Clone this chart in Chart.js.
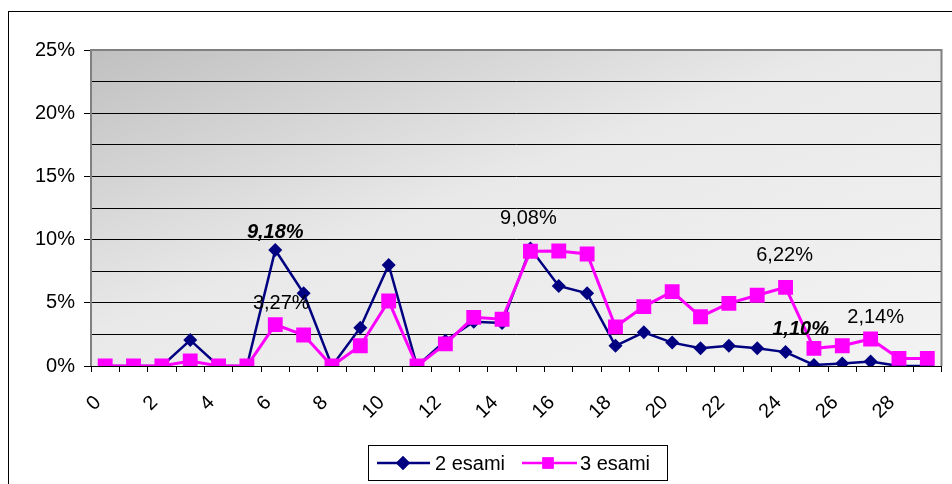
<!DOCTYPE html>
<html>
<head>
<meta charset="utf-8">
<script src="https://cdn.jsdelivr.net/npm/chart.js@4.4.1/dist/chart.umd.min.js"></script>
<style>
  html, body { margin: 0; padding: 0; background: #fff; }
  #wrap { width: 952px; height: 484px; }
</style>
</head>
<body>
<div id="wrap"><canvas id="chart" width="952" height="484"></canvas></div>
<script>
// categories on the x axis (one point per category)
const categories = [0, 1, 2, 3, 4, 5, 6, 7, 8, 9, 10, 11, 12, 13, 14, 15, 16, 17, 18, 19, 20, 21, 22, 23, 24, 25, 26, 27, 28, 29];
// percentages
const twoExams = [0, 0, 0, 2.05, 0, 0, 9.18, 5.75, 0, 3.03, 8.0, 0, 2.0, 3.5, 3.4, 9.3, 6.33, 5.75, 1.6, 2.67, 1.85, 1.4, 1.6, 1.4, 1.10, 0.08, 0.2, 0.35, 0, 0];
const threeExams = [0, 0, 0, 0.4, 0, 0, 3.27, 2.45, 0, 1.6, 5.14, 0, 1.75, 3.85, 3.7, 9.08, 9.1, 8.86, 3.1, 4.7, 5.88, 3.9, 4.95, 5.6, 6.22, 1.4, 1.6, 2.14, 0.6, 0.6];
const seriesNames = ['2 esami', '3 esami'];
const xTickLabels = [0, 2, 4, 6, 8, 10, 12, 14, 16, 18, 20, 22, 24, 26, 28];
const yTickLabels = [0, 5, 10, 15, 20, 25];
// value labels shown on the chart: [dataset, index]
const valueLabels = [[0, 6], [1, 6], [1, 15], [1, 24], [0, 24], [1, 27]];

const FONT = "'Liberation Sans', Arial, sans-serif";
const FSIZE = 20;
const NAVY = '#000080';
const PINK = '#ff00ff';

// label placement relative to the point (style only)
const labelStyle = {
  '0-6': { dx: 0, dy: -17, bold: true },
  '1-6': { dx: 6, dy: -21, bold: false },
  '1-15': { dx: -2, dy: -33, bold: false },
  '1-24': { dx: -1, dy: -32, bold: false },
  '0-24': { dx: 15, dy: -23, bold: true },
  '1-27': { dx: 5, dy: -21, bold: false }
};

const toPoints = vals => vals.map((v, i) => ({ x: categories[i] + 0.5, y: v }));

const decorPlugin = {
  id: 'decor',
  beforeDraw(chart) {
    const { ctx, chartArea: a } = chart;
    ctx.save();
    ctx.fillStyle = '#fff';
    ctx.fillRect(0, 0, chart.width, chart.height);
    // outer chart frame (cut off right and bottom)
    ctx.strokeStyle = '#000';
    ctx.lineWidth = 1;
    ctx.strokeRect(8.5, 11.5, 1000, 1000);
    // plot background gradient, diagonal from top-left
    const w = a.right - a.left, h = a.bottom - a.top;
    const s = 2 / (1 / (w * w) + 1 / (h * h));
    const g = ctx.createLinearGradient(a.left, a.top, a.left + s / w, a.top + s / h);
    g.addColorStop(0, '#c0c0c0');
    g.addColorStop(0.45, '#e9e9e9');
    g.addColorStop(1, '#f3f3f3');
    ctx.fillStyle = g;
    ctx.fillRect(a.left, a.top, w, h);
    ctx.restore();
  },
  beforeDatasetsDraw(chart) {
    const { ctx, chartArea: a } = chart;
    ctx.save();
    ctx.strokeStyle = '#808080';
    ctx.lineWidth = 2;
    ctx.beginPath();
    ctx.moveTo(a.left, a.bottom);
    ctx.lineTo(a.left, a.top);
    ctx.lineTo(a.right, a.top);
    ctx.lineTo(a.right, a.bottom);
    ctx.stroke();
    ctx.strokeStyle = '#000';
    ctx.lineWidth = 1;
    ctx.beginPath();
    ctx.moveTo(a.left - 7, Math.round(a.bottom) + 0.5);
    ctx.lineTo(a.right, Math.round(a.bottom) + 0.5);
    ctx.stroke();
    ctx.restore();
  },
  afterDatasetsDraw(chart) {
    const ctx = chart.ctx;
    ctx.save();
    ctx.fillStyle = '#000';
    ctx.textAlign = 'center';
    ctx.textBaseline = 'middle';
    valueLabels.forEach(([ds, i]) => {
      const el = chart.getDatasetMeta(ds).data[i];
      const st = labelStyle[ds + '-' + i];
      const v = chart.data.datasets[ds].data[i].y;
      ctx.font = (st.bold ? 'italic bold ' : '') + FSIZE + 'px ' + FONT;
      ctx.fillText(v.toFixed(2).replace('.', ',') + '%', el.x + st.dx, el.y + st.dy);
    });
    ctx.restore();
  },
  afterDraw(chart) {
    // legend box
    const ctx = chart.ctx;
    ctx.save();
    ctx.strokeStyle = '#000';
    ctx.lineWidth = 1;
    ctx.strokeRect(368.5, 445.5, 299, 35);
    const y = 463;
    const items = [
      { x0: 377, x1: 430, mx: 403, color: NAVY, style: 'rectRot', r: 7, tx: 435 },
      { x0: 522, x1: 577, mx: 548, color: PINK, style: 'rect', r: 8, tx: 580 }
    ];
    items.forEach((it, k) => {
      ctx.strokeStyle = it.color;
      ctx.lineWidth = 2.5;
      ctx.beginPath();
      ctx.moveTo(it.x0, y);
      ctx.lineTo(it.x1, y);
      ctx.stroke();
      ctx.fillStyle = it.color;
      Chart.helpers.drawPoint(ctx, { pointStyle: it.style, radius: it.r, borderWidth: 0 }, it.mx, y);
      ctx.fill();
      ctx.fillStyle = '#000';
      ctx.font = FSIZE + 'px ' + FONT;
      ctx.textAlign = 'left';
      ctx.textBaseline = 'middle';
      ctx.fillText(seriesNames[k], it.tx, y + 1);
    });
    ctx.restore();
  }
};

new Chart(document.getElementById('chart'), {
  type: 'line',
  data: {
    datasets: [
      {
        label: seriesNames[0],
        data: toPoints(twoExams),
        borderColor: NAVY,
        backgroundColor: NAVY,
        borderWidth: 2.5,
        pointStyle: 'rectRot',
        pointRadius: 7,
        pointBorderWidth: 0,
        tension: 0,
        order: 1
      },
      {
        label: seriesNames[1],
        data: toPoints(threeExams),
        borderColor: PINK,
        backgroundColor: PINK,
        borderWidth: 3,
        pointStyle: 'rect',
        pointRadius: 10.5,
        pointBorderWidth: 0,
        tension: 0,
        order: 0
      }
    ]
  },
  options: {
    responsive: false,
    animation: false,
    events: [],
    layout: { padding: { top: 50, right: 7, bottom: 54, left: 0 } },
    plugins: { legend: { display: false }, tooltip: { enabled: false } },
    scales: {
      x: {
        type: 'linear',
        min: 0,
        max: 30,
        afterFit: s => { s.height = 64; s.paddingLeft = 0; s.paddingRight = 0; },
        afterBuildTicks: s => { s.ticks = categories.concat([30]).map(v => ({ value: v })); },
        ticks: {
          autoSkip: false,
          minRotation: 45,
          maxRotation: 45,
          padding: 19,
          labelOffset: 7,
          color: '#000',
          font: { family: FONT, size: FSIZE },
          callback: v => xTickLabels.includes(v) ? String(v) : ''
        },
        grid: { drawOnChartArea: false, tickLength: 6, color: '#000' },
        border: { display: false }
      },
      y: {
        min: 0,
        max: 25,
        afterFit: s => { s.width = 91; s.paddingTop = 0; s.paddingBottom = 0; },
        ticks: {
          stepSize: 2.5,
          padding: 9,
          color: '#000',
          font: { family: FONT, size: FSIZE },
          callback: v => yTickLabels.includes(v) ? v + '%' : ''
        },
        grid: {
          color: '#000',
          lineWidth: 1,
          tickLength: 7,
          tickColor: c => yTickLabels.includes(c.tick.value) ? '#000' : 'rgba(0,0,0,0)'
        },
        border: { display: false }
      }
    }
  },
  plugins: [decorPlugin]
});
</script>
</body>
</html>
